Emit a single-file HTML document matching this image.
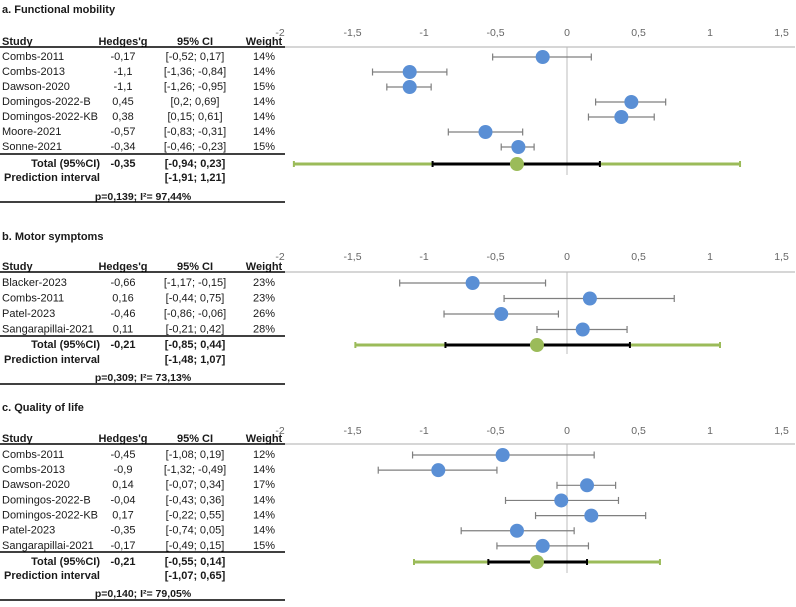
<!DOCTYPE html>
<html><head><meta charset="utf-8"><style>
body{margin:0;background:#fff;width:796px;height:607px;overflow:hidden}
svg{display:block;font-family:"Liberation Sans",sans-serif}
</style></head><body>
<svg id="c" width="796" height="607" viewBox="0 0 796 607"></svg>
<script>
const ticks=[-2,-1.5,-1,-0.5,0,0.5,1,1.5];
const tickLabels=["-2","-1,5","-1","-0,5","0","0,5","1","1,5"];
const aStudies=["Combs-2011","Combs-2013","Dawson-2020","Domingos-2022-B","Domingos-2022-KB","Moore-2021","Sonne-2021"];
const aG=[-0.17,-1.1,-1.1,0.45,0.38,-0.57,-0.34];
const aLo=[-0.52,-1.36,-1.26,0.2,0.15,-0.83,-0.46];
const aHi=[0.17,-0.84,-0.95,0.69,0.61,-0.31,-0.23];
const aW=["14%","14%","15%","14%","14%","14%","15%"];
const aTot=[-0.35,-0.94,0.23];
const aPred=[-1.91,1.21];
const bStudies=["Blacker-2023","Combs-2011","Patel-2023","Sangarapillai-2021"];
const bG=[-0.66,0.16,-0.46,0.11];
const bLo=[-1.17,-0.44,-0.86,-0.21];
const bHi=[-0.15,0.75,-0.06,0.42];
const bW=["23%","23%","26%","28%"];
const bTot=[-0.21,-0.85,0.44];
const bPred=[-1.48,1.07];
const cStudies=["Combs-2011","Combs-2013","Dawson-2020","Domingos-2022-B","Domingos-2022-KB","Patel-2023","Sangarapillai-2021"];
const cG=[-0.45,-0.9,0.14,-0.04,0.17,-0.35,-0.17];
const cLo=[-1.08,-1.32,-0.07,-0.43,-0.22,-0.74,-0.49];
const cHi=[0.19,-0.49,0.34,0.36,0.55,0.05,0.15];
const cW=["12%","14%","17%","14%","14%","14%","15%"];
const cTot=[-0.21,-0.55,0.14];
const cPred=[-1.07,0.65];

const svg=document.getElementById('c');
const NS="http://www.w3.org/2000/svg";
const X=v=>567+v*143;
const fmt=v=>String(v).replace('.',',');
function el(t,a,txt){const e=document.createElementNS(NS,t);for(const k in a)e.setAttribute(k,a[k]);if(txt!==undefined)e.textContent=txt;svg.appendChild(e);return e;}
function txt(x,y,s,anchor,bold,name,size){const e=el('text',{x:x,y:y,'font-size':size||11,'text-anchor':anchor||'start','dominant-baseline':'middle','font-weight':bold?'bold':'normal',fill:'#1a1a1a'},s);

return e;}
function line(x1,y1,x2,y2,stroke,w,name){const e=el('line',{x1:x1,y1:y1,x2:x2,y2:y2,stroke:stroke,'stroke-width':w});

return e;}
function dot(x,y,r,fill,name){const e=el('circle',{cx:x,cy:y,r:r,fill:fill});

return e;}

function panel(L){
  txt(2,L.title,L.titleText,'start',true,'panel-title',11);
  ticks.forEach((t,i)=>txt(X(t)+(i==0?-1:0),L.tick,tickLabels[i],'middle',false,'x-tick-label',10.5).setAttribute('fill','#666'));
  txt(2,L.head,'Study','start',true,'header-study');
  txt(123,L.head,"Hedges'g",'middle',true,'header-hedges-g');
  txt(195,L.head,'95% CI','middle',true,'header-ci');
  txt(264,L.head,'Weight','middle',true,'header-weight');
  line(0,L.axis,285,L.axis,'#000',1.5,'table-header-rule');
  line(285,L.axis,795,L.axis,'#c8c8c8',1.5,'x-axis-line');
  line(X(0),L.axis,X(0),L.zeroEnd,'#bdbdbd',1,'zero-reference-line');
  L.studies.forEach((s,i)=>{
    const y=L.row0+i*L.step;
    txt(2,y,s,'start',false,'study-name');
    txt(123,y,fmt(L.g[i]),'middle',false,'hedges-g-value');
    txt(195,y,'['+fmt(L.lo[i])+'; '+fmt(L.hi[i])+']','middle',false,'ci-value');
    txt(264,y,L.w[i],'middle',false,'weight-value');
    line(X(L.lo[i]),y,X(L.hi[i]),y,'#7f7f7f',1.2,'study-ci-bar');
    line(X(L.lo[i]),y-3.5,X(L.lo[i]),y+3.5,'#7f7f7f',1.2,'ci-cap');
    line(X(L.hi[i]),y-3.5,X(L.hi[i]),y+3.5,'#7f7f7f',1.2,'ci-cap');
    dot(X(L.g[i]),y,7,'#5a8fd5','study-effect-point');
  });
  line(0,L.sep,285,L.sep,'#000',1.5,'table-total-rule');
  txt(100,L.tot,'Total (95%CI)','end',true,'total-label');
  txt(123,L.tot,fmt(L.T[0]),'middle',true,'total-value');
  txt(195,L.tot,'['+fmt(L.T[1])+'; '+fmt(L.T[2])+']','middle',true,'total-ci');
  txt(100,L.pred,'Prediction interval','end',true,'prediction-label');
  txt(195,L.pred,'['+fmt(L.P[0])+'; '+fmt(L.P[1])+']','middle',true,'prediction-ci');
  txt(143,L.p,L.pText,'middle',true,'heterogeneity-stats',10.5);
  line(0,L.bottom,285,L.bottom,'#000',1.5,'table-bottom-rule');
  const y=L.tot;
  line(X(L.P[0]),y,X(L.P[1]),y,'#9bbb59',3,'prediction-interval-bar');
  line(X(L.P[0]),y-3,X(L.P[0]),y+3,'#9bbb59',2,'prediction-cap');
  line(X(L.P[1]),y-3,X(L.P[1]),y+3,'#9bbb59',2,'prediction-cap');
  line(X(L.T[1]),y,X(L.T[2]),y,'#000',3,'total-ci-bar');
  line(X(L.T[1]),y-3,X(L.T[1]),y+3,'#000',2,'total-ci-cap');
  line(X(L.T[2]),y-3,X(L.T[2]),y+3,'#000',2,'total-ci-cap');
  dot(X(L.T[0]),y,7,'#9bbb59','pooled-effect-point');
}
panel({title:10,titleText:'a. Functional mobility',tick:33,head:42,axis:47,zeroEnd:175,row0:57,step:15,studies:aStudies,g:aG,lo:aLo,hi:aHi,w:aW,sep:154,tot:164,pred:178,p:197,bottom:202,T:aTot,P:aPred,pText:'p=0,139; I²= 97,44%'});
panel({title:237,titleText:'b. Motor symptoms',tick:257,head:267,axis:272,zeroEnd:354,row0:283,step:15.5,studies:bStudies,g:bG,lo:bLo,hi:bHi,w:bW,sep:336,tot:345,pred:360,p:378,bottom:384,T:bTot,P:bPred,pText:'p=0,309; I²= 73,13%'});
panel({title:408,titleText:'c. Quality of life',tick:431,head:439,axis:444,zeroEnd:573,row0:455,step:15.15,studies:cStudies,g:cG,lo:cLo,hi:cHi,w:cW,sep:552,tot:562,pred:576,p:594,bottom:600,T:cTot,P:cPred,pText:'p=0,140; I²= 79,05%'});
</script>
</body></html>
